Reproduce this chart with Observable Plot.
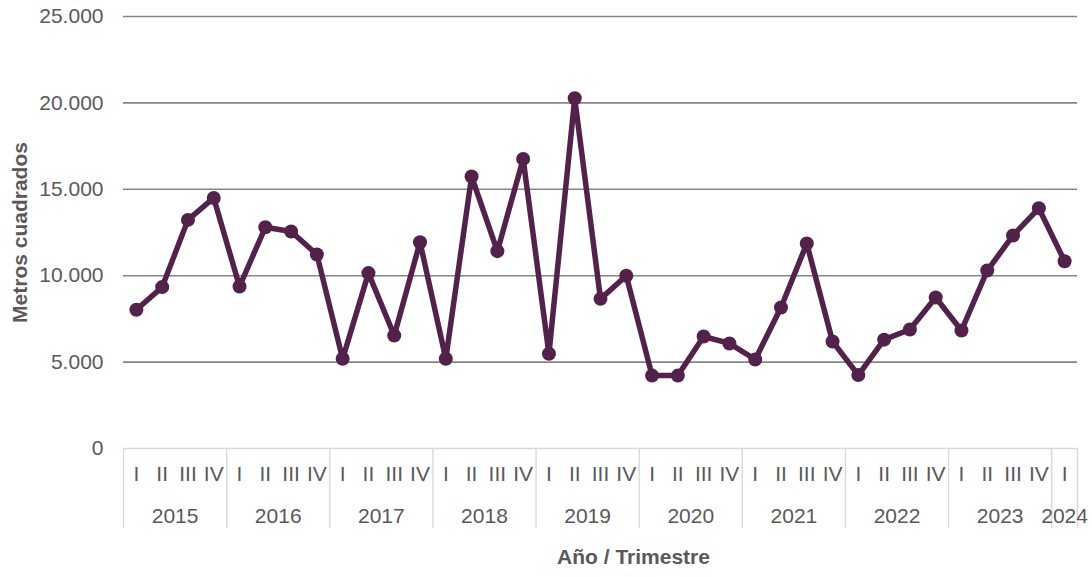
<!DOCTYPE html>
<html>
<head>
<meta charset="utf-8">
<script src="https://cdn.jsdelivr.net/npm/d3@7"></script>
<script src="https://cdn.jsdelivr.net/npm/@observablehq/plot@0.6"></script>
<style>
  html, body { margin: 0; padding: 0; background: #ffffff; }
  #chart svg { display: block; }
</style>
</head>
<body>
<div id="chart"></div>
<script>
// ---- Data ----
const years = ["2015", "2016", "2017", "2018", "2019", "2020", "2021", "2022", "2023", "2024"];
const quarterNames = ["I", "II", "III", "IV"];
const values = [
  8030, 9340, 13230, 14500,   // 2015
  9375, 12800, 12560, 11230,  // 2016
  5190, 10150, 6540, 11940,   // 2017
  5190, 15740, 11420, 16760,  // 2018
  5480, 20270, 8660, 10000,   // 2019
  4220, 4220, 6480, 6080,     // 2020
  5150, 8160, 11860, 6190,    // 2021
  4250, 6300, 6890, 8740,     // 2022
  6830, 10300, 12330, 13900,  // 2023
  10840                       // 2024
];
const yTicks = [0, 5000, 10000, 15000, 20000, 25000];

// table built from the arrays
const rows = values.map((v, i) => ({
  i,
  year: years[Math.floor(i / 4)],
  quarter: quarterNames[i % 4],
  value: v
}));

// year groups: centre index and boundaries derived from rows
const yearGroups = years.map(y => {
  const idx = rows.filter(r => r.year === y).map(r => r.i);
  return { year: y, center: (idx[0] + idx[idx.length - 1]) / 2, start: idx[0] - 0.5, end: idx[idx.length - 1] + 0.5 };
});
const boundaries = Array.from(new Set(yearGroups.flatMap(g => [g.start, g.end])));

const txt = "#595959";
const lineColor = "#52224a";
const font = "'Liberation Sans', Arial, Helvetica, sans-serif";

const chart = Plot.plot({
  width: 1092,
  height: 577,
  marginTop: 16,
  marginBottom: 129,
  marginLeft: 123,
  marginRight: 15,
  style: { fontFamily: font, fontSize: "21px", color: txt, background: "#ffffff" },
  x: { type: "linear", domain: [-0.5, rows.length - 0.5], axis: null },
  y: { domain: [0, 25000], axis: null },
  marks: [
    // horizontal gridlines
    Plot.ruleY(yTicks.filter(d => d > 0), { stroke: "#868686", strokeWidth: 1.6 }),
    // baseline of the category area
    Plot.ruleY([0], { stroke: "#d9d9d9", strokeWidth: 1.4 }),
    // y axis labels
    Plot.axisY(yTicks, {
      tickSize: 0,
      tickPadding: 20,
      tickFormat: d => d3.format(",")(d).replace(/,/g, "."),
      fill: txt,
      fontSize: 21,
      label: null
    }),
    // year separators
    Plot.axisX(boundaries, {
      tickSize: 80,
      stroke: "#d9d9d9",
      strokeWidth: 1.4,
      tickFormat: () => "",
      label: null
    }),
    // quarter labels
    Plot.axisX(rows.map(r => r.i), {
      tickSize: 0,
      tickPadding: 18,
      tickFormat: i => rows[i].quarter,
      fill: txt,
      fontSize: 21,
      label: null
    }),
    // year labels
    Plot.axisX(yearGroups.map(g => g.center), {
      tickSize: 0,
      tickPadding: 60,
      tickFormat: c => yearGroups.find(g => g.center === c).year,
      fill: txt,
      fontSize: 21,
      label: null
    }),
    // series
    Plot.line(rows, { x: "i", y: "value", stroke: lineColor, strokeWidth: 5.5, strokeLinejoin: "round" }),
    Plot.dot(rows, { x: "i", y: "value", fill: lineColor, r: 7 }),
    // axis titles
    Plot.text(["Metros cuadrados"], {
      frameAnchor: "left",
      textAnchor: "middle",
      dx: -103,
      rotate: -90,
      fill: txt,
      fontSize: 21,
      fontWeight: "bold"
    }),
    Plot.text(["Año / Trimestre"], {
      frameAnchor: "bottom",
      dx: 33,
      dy: 115,
      fill: txt,
      fontSize: 21,
      fontWeight: "bold"
    })
  ]
});

document.getElementById("chart").appendChild(chart);
</script>
</body>
</html>
